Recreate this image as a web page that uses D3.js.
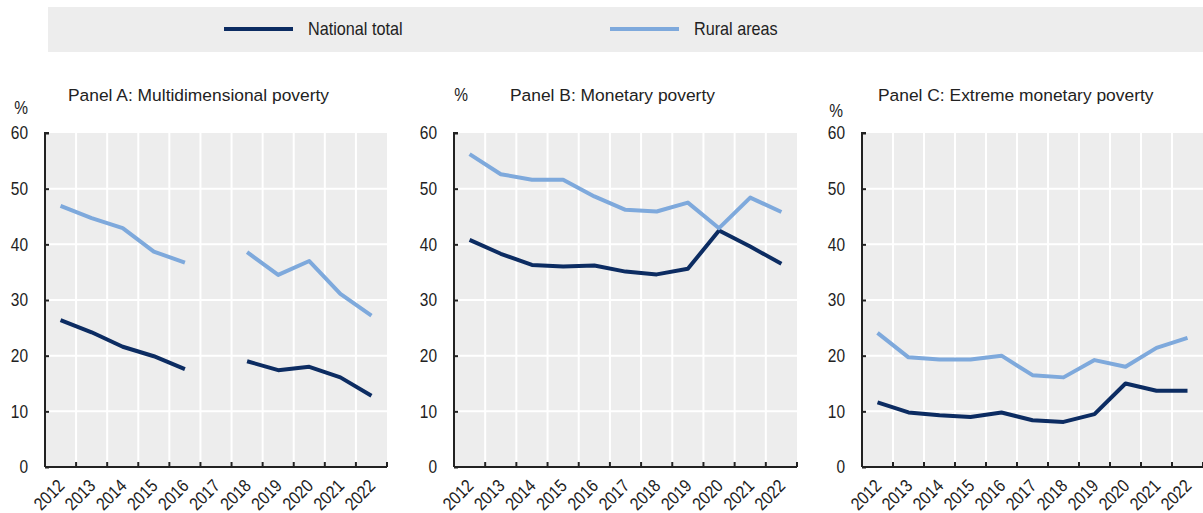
<!DOCTYPE html>
<html>
<head>
<meta charset="utf-8">
<script src="https://cdn.jsdelivr.net/npm/d3@7"></script>
<style>
  html, body { margin: 0; padding: 0; background: #fff; }
  svg { display: block; font-family: "Liberation Sans", Arial, sans-serif; }
</style>
</head>
<body>
<svg id="chart" width="1203" height="513"></svg>
<script>
// Years on the horizontal axis
const years = ["2012", "2013", "2014", "2015", "2016", "2017", "2018", "2019", "2020", "2021", "2022"];
const seriesNames = ["National total", "Rural areas"];
const panelTitles = [
  "Panel A: Multidimensional poverty",
  "Panel B: Monetary poverty",
  "Panel C: Extreme monetary poverty"
];
const yTicks = [0, 10, 20, 30, 40, 50, 60];

// Poverty rates, % of population (null = no survey that year)
const multiNational = [26.4, 24.2, 21.6, 19.9, 17.6, null, 19.0, 17.4, 18.0, 16.1, 12.8];
const multiRural    = [46.9, 44.7, 42.9, 38.7, 36.7, null, 38.6, 34.5, 37.0, 31.1, 27.2];
const monNational   = [40.8, 38.3, 36.3, 36.0, 36.2, 35.1, 34.6, 35.6, 42.5, 39.6, 36.5];
const monRural      = [56.2, 52.6, 51.6, 51.6, 48.6, 46.2, 45.9, 47.5, 42.9, 48.4, 45.8];
const extNational   = [11.6, 9.8, 9.3, 9.0, 9.8, 8.4, 8.1, 9.5, 15.0, 13.7, 13.7];
const extRural      = [24.1, 19.7, 19.3, 19.3, 20.0, 16.5, 16.1, 19.2, 18.0, 21.4, 23.2];

const colors = ["#0c2c62", "#7ea9dc"];

const panels = [
  { title: panelTitles[0], series: [multiNational, multiRural], left: 45,  right: 387,  titleX: 68,  pct: [21, 114] },
  { title: panelTitles[1], series: [monNational, monRural],     left: 454, right: 797,  titleX: 510, pct: [461, 101] },
  { title: panelTitles[2], series: [extNational, extRural],     left: 862, right: 1203, titleX: 878, pct: [836, 117] }
];

// axis numbers are set slightly condensed
const squeeze = 0.86;
const numSize = 18;

const svg = d3.select("#chart");
const plotTop = 133, plotBottom = 467;
const y = d3.scaleLinear().domain([0, 60]).range([plotBottom, plotTop]);

// Legend strip
const legend = svg.append("g");
legend.append("rect").attr("x", 48).attr("y", 7).attr("width", 1155).attr("height", 45).attr("fill", "#ededed");
const legendItems = [{ x1: 224, x2: 293, tx: 308 }, { x1: 610, x2: 679, tx: 694 }];
legendItems.forEach((it, i) => {
  legend.append("line").attr("x1", it.x1).attr("x2", it.x2).attr("y1", 29).attr("y2", 29)
    .attr("stroke", colors[i]).attr("stroke-width", 4);
  legend.append("text")
    .attr("transform", `translate(${it.tx},29) scale(0.9,1)`)
    .attr("dy", "0.35em")
    .attr("font-size", 18).attr("fill", "#222").text(seriesNames[i]);
});

panels.forEach(p => {
  const g = svg.append("g");
  const x = d3.scaleBand().domain(years).range([p.left, p.right]).paddingInner(0).paddingOuter(0);
  const bw = x.bandwidth();

  // plot background
  g.append("rect").attr("x", p.left).attr("y", plotTop).attr("width", p.right - p.left).attr("height", plotBottom - plotTop)
    .attr("fill", "#ededed");

  // white grid
  g.selectAll(".hgrid").data(yTicks.filter(t => t > 0 && t < 60)).join("line")
    .attr("x1", p.left).attr("x2", p.right).attr("y1", d => y(d)).attr("y2", d => y(d))
    .attr("stroke", "#fff").attr("stroke-width", 2);
  g.selectAll(".vgrid").data(years.slice(1)).join("line")
    .attr("x1", d => x(d)).attr("x2", d => x(d)).attr("y1", plotTop).attr("y2", plotBottom)
    .attr("stroke", "#fff").attr("stroke-width", 2);

  // series lines
  p.series.forEach((vals, i) => {
    const line = d3.line()
      .defined(d => d != null)
      .x((d, j) => x(years[j]) + bw / 2)
      .y(d => y(d));
    g.append("path").datum(vals).attr("d", line)
      .attr("fill", "none").attr("stroke", colors[i]).attr("stroke-width", 4)
      .attr("stroke-linejoin", "round").attr("stroke-linecap", "butt");
  });

  // y axis with inward ticks
  const yAxis = d3.axisLeft(y).tickValues(yTicks).tickSize(-4).tickPadding(17).tickFormat(d3.format("d"));
  const ya = g.append("g").attr("transform", `translate(${p.left},0)`).call(yAxis);
  ya.select(".domain").attr("stroke", "#222").attr("stroke-width", 2).attr("d", `M4,${plotTop}H0V${plotBottom}`);
  ya.selectAll(".tick line").attr("stroke", "#222").attr("stroke-width", 2);
  ya.selectAll(".tick text")
    .attr("x", null)
    .attr("transform", `translate(-17,0) scale(${squeeze},1)`)
    .attr("font-size", numSize).attr("fill", "#222")
    .attr("font-family", "\"Liberation Sans\", Arial, sans-serif");

  // x axis line with inward ticks at band edges
  g.append("line").attr("x1", p.left).attr("x2", p.right).attr("y1", plotBottom).attr("y2", plotBottom)
    .attr("stroke", "#222").attr("stroke-width", 2);
  const edges = years.map(d => x(d) + bw);
  g.selectAll(".xtick").data(edges).join("line")
    .attr("x1", d => d).attr("x2", d => d).attr("y1", plotBottom).attr("y2", plotBottom - 5)
    .attr("stroke", "#222").attr("stroke-width", 2);

  // rotated year labels
  g.selectAll(".xlab").data(years).join("text")
    .attr("transform", d => `translate(${x(d) + bw / 2 + 5},${plotBottom + 20}) rotate(-45) scale(${squeeze},1)`)
    .attr("text-anchor", "end").attr("font-size", numSize).attr("fill", "#222").text(d => d);

  // title and unit
  g.append("text").attr("x", p.titleX).attr("y", 101).attr("font-size", 17.4).attr("fill", "#222").text(p.title);
  g.append("text")
    .attr("transform", `translate(${p.pct[0]},${p.pct[1]}) scale(${squeeze},1)`)
    .attr("text-anchor", "middle")
    .attr("font-size", numSize).attr("fill", "#222").text("%");
});
</script>
</body>
</html>
